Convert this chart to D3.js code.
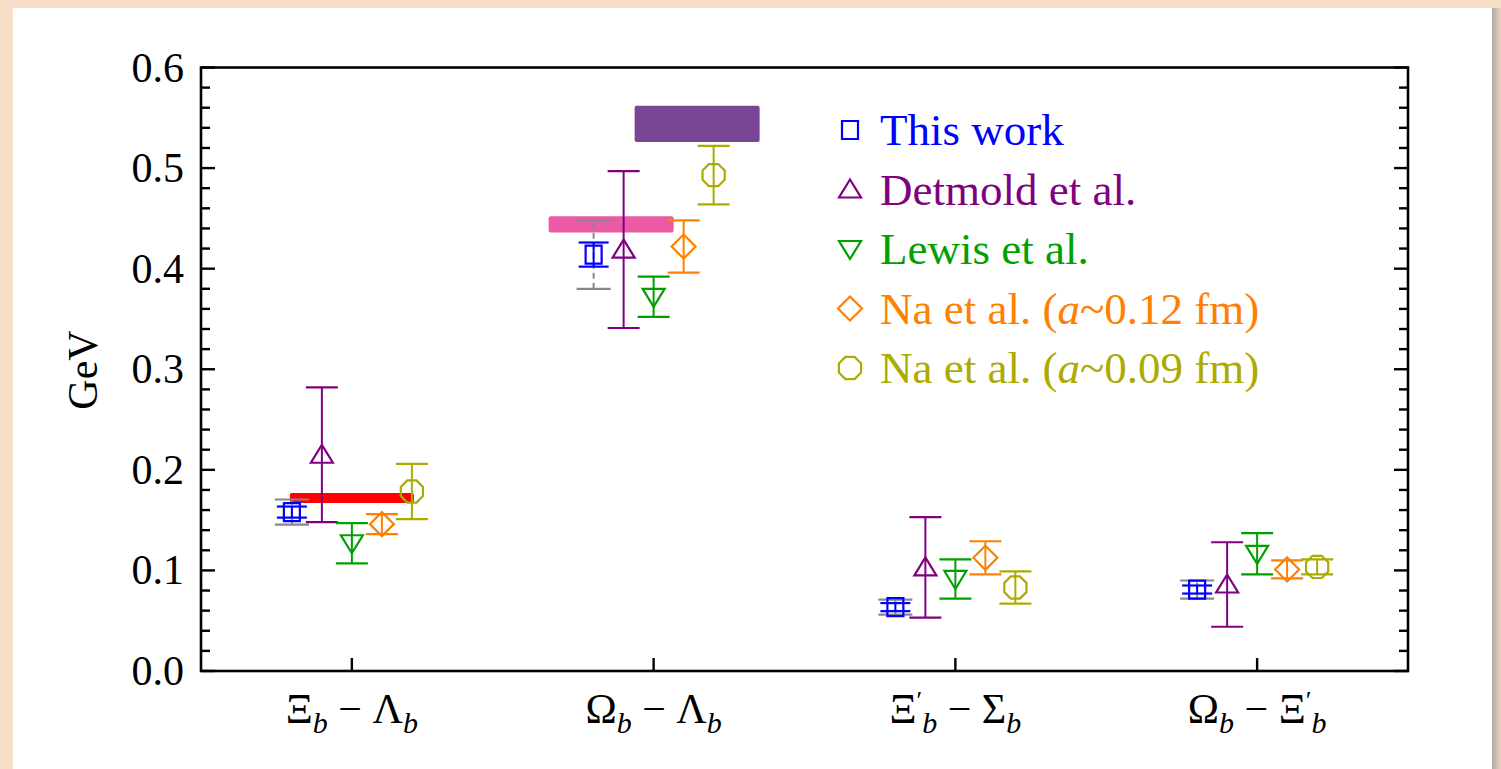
<!DOCTYPE html>
<html>
<head>
<meta charset="utf-8">
<script src="https://cdn.jsdelivr.net/npm/d3@7"></script>
<style>
body{margin:0;background:#f6dfc6;overflow:hidden;}
svg{display:block;font-family:"Liberation Serif","Times New Roman",serif;}
</style>
</head>
<body>
<svg id="viewer"></svg>
<script>
// label parts: [letter, prime?] - [letter, prime?], subscript b on both
var categories = [
  [['Ξ',false],['Λ',false]],
  [['Ω',false],['Λ',false]],
  [['Ξ',true],['Σ',false]],
  [['Ω',false],['Ξ',true]]
];
var yTicks = [0,0.1,0.2,0.3,0.4,0.5,0.6];

var seriesNames = ['This work','Detmold et al.','Lewis et al.','Na et al. (a~0.12 fm)','Na et al. (a~0.09 fm)'];

var thisWork      = [0.158, 0.414, 0.0635, 0.081];
var thisWorkStat  = [0.0055, 0.012, 0.004, 0.004];
var thisWorkTotal = [0.0125, 0.034, 0.0075, 0.009];
var detmold       = [0.215, 0.419, 0.103, 0.086];
var detmoldErr    = [0.067, 0.078, 0.050, 0.042];
var lewis         = [0.127, 0.372, 0.0915, 0.1165];
var lewisErr      = [0.020, 0.020, 0.0195, 0.0205];
var na12          = [0.146, 0.422, 0.1125, 0.101];
var na12Err       = [0.010, 0.026, 0.0165, 0.009];
var na09          = [0.1785, 0.493, 0.083, 0.1035];
var na09Err       = [0.0275, 0.029, 0.016, 0.0075];

// experimental bands
var expCategory = [0, 1, 1];
var expValue    = [0.172, 0.444, 0.544];
var expErr      = [0.005, 0.008, 0.018];

var colors = ['#0000ff','#800080','#00a000','#ff8000','#abab00'];
var expColors = ['#ff0000','#ea5aa6','#7b4596'];
var expSpan = [[-62,62],[-105,20],[-19,106]];   // horizontal extent in px around category centre

var W = 1501, H = 769;
var viewer = d3.select('#viewer').attr('width',W).attr('height',H);

// card background
viewer.append('rect').attr('x',0).attr('y',0).attr('width',W).attr('height',H).attr('fill','#f6dfc6');
var grad = viewer.append('defs').append('linearGradient').attr('id','shadow');
grad.append('stop').attr('offset','0%').attr('stop-color','#b3a89f');
grad.append('stop').attr('offset','100%').attr('stop-color','#e6d3c0');
viewer.append('rect').attr('x',1492).attr('y',8).attr('width',9).attr('height',H).attr('fill','url(#shadow)');
viewer.append('rect').attr('x',13).attr('y',8).attr('width',1479).attr('height',H).attr('fill','#ffffff');

var L = 201, R = 1408, T = 67.5, B = 671;

var x = d3.scaleBand().domain(d3.range(categories.length)).range([L,R]).padding(0);
var y = d3.scaleLinear().domain([0,0.6]).range([B,T]);
var off = d3.scalePoint().domain(d3.range(seriesNames.length)).range([-60,60]);
function cx(i){return x(i)+x.bandwidth()/2;}

// experimental bars
viewer.selectAll('.exp')
  .data(expValue)
  .enter().append('rect')
    .attr('class','exp')
    .attr('x',function(d,i){return cx(expCategory[i])+expSpan[i][0];})
    .attr('width',function(d,i){return expSpan[i][1]-expSpan[i][0];})
    .attr('y',function(d,i){return y(d+expErr[i]);})
    .attr('height',function(d,i){return y(d-expErr[i])-y(d+expErr[i]);})
    .attr('rx',2)
    .attr('fill',function(d,i){return expColors[i];});

// markers
function markerPath(s){
  if (s==0) return 'M-8,-9H8V9H-8Z';
  if (s==1) return 'M0,-10L11,8H-11Z';
  if (s==2) return 'M0,10L11,-8H-11Z';
  if (s==3) return 'M0,-12L12,0L0,12L-12,0Z';
  var p = [];
  for (var k=0;k<8;k++){
    var a = Math.PI/8 + k*Math.PI/4;
    p.push((12*Math.cos(a)).toFixed(2)+','+(12*Math.sin(a)).toFixed(2));
  }
  return 'M'+p.join('L')+'Z';
}

var points = [];
var vals = [thisWork, detmold, lewis, na12, na09];
var errs = [thisWorkStat, detmoldErr, lewisErr, na12Err, na09Err];
for (var s=0;s<5;s++){
  for (var c=0;c<categories.length;c++){
    points.push({s:s, c:c, v:vals[s][c], e:errs[s][c]});
  }
}

function errorBar(g, lo, hi, color, half, dash){
  g.append('line').attr('x1',0).attr('x2',0).attr('y1',lo).attr('y2',hi)
    .attr('stroke',color).attr('stroke-width',2).attr('stroke-dasharray',dash||null);
  g.append('line').attr('x1',-half).attr('x2',half).attr('y1',lo).attr('y2',lo)
    .attr('stroke',color).attr('stroke-width',2.2);
  g.append('line').attr('x1',-half).attr('x2',half).attr('y1',hi).attr('y2',hi)
    .attr('stroke',color).attr('stroke-width',2.2);
}

var pointViews = viewer.selectAll('.pt')
  .data(points)
  .enter().append('g')
    .attr('class','pt')
    .attr('transform',function(d){return 'translate('+(cx(d.c)+off(d.s))+',0)';});

pointViews.each(function(d){
  var g = d3.select(this);
  if (d.s==0){
    errorBar(g, y(d.v-thisWorkTotal[d.c]), y(d.v+thisWorkTotal[d.c]), '#888888', 17, '6,4');
  }
  errorBar(g, y(d.v-d.e), y(d.v+d.e), colors[d.s], d.s==0?15:16);
  g.append('path')
    .attr('d',markerPath(d.s))
    .attr('transform','translate(0,'+y(d.v)+')')
    .attr('fill','none')
    .attr('stroke',colors[d.s])
    .attr('stroke-width',2.2);
});

// frame
var axisColor = '#000';
viewer.append('rect').attr('x',L).attr('y',T).attr('width',R-L).attr('height',B-T)
  .attr('fill','none').attr('stroke',axisColor).attr('stroke-width',2.6);

var minor = d3.range(0,0.6001,0.02);
viewer.selectAll('.ytick')
  .data(minor)
  .enter().append('g')
    .attr('class','ytick')
    .each(function(d,i){
      var len = (i%5==0)?14:9;
      var g = d3.select(this);
      g.append('line').attr('x1',L).attr('x2',L+len).attr('y1',y(d)).attr('y2',y(d))
        .attr('stroke',axisColor).attr('stroke-width',2.4);
      g.append('line').attr('x1',R).attr('x2',R-len).attr('y1',y(d)).attr('y2',y(d))
        .attr('stroke',axisColor).attr('stroke-width',2.4);
    });

viewer.selectAll('.ylab')
  .data(yTicks)
  .enter().append('text')
    .attr('class','ylab')
    .attr('x',184)
    .attr('y',function(d){return y(d)+14;})
    .attr('text-anchor','end')
    .attr('font-size',42)
    .attr('fill','#000')
    .text(function(d){return d.toFixed(1);});

viewer.selectAll('.xtick')
  .data(categories)
  .enter().append('line')
    .attr('class','xtick')
    .attr('x1',function(d,i){return cx(i);})
    .attr('x2',function(d,i){return cx(i);})
    .attr('y1',B).attr('y2',B-13)
    .attr('stroke',axisColor).attr('stroke-width',2.4);

// x labels
var xLabels = viewer.selectAll('.xlab')
  .data(categories)
  .enter().append('text')
    .attr('class','xlab')
    .attr('x',function(d,i){return cx(i);})
    .attr('y',723)
    .attr('text-anchor','middle')
    .attr('font-size',42)
    .attr('fill','#000');

xLabels.each(function(d){
  var t = d3.select(this);
  function part(p){
    t.append('tspan').text(p[0]);
    if (p[1]){
      t.append('tspan').attr('font-size',26).attr('dy',-14).text('′');
      t.append('tspan').attr('font-size',30).attr('font-style','italic').attr('dy',24).text('b');
    } else {
      t.append('tspan').attr('font-size',30).attr('font-style','italic').attr('dy',10).text('b');
    }
  }
  part(d[0]);
  t.append('tspan').attr('dy',-10).text(' − ');
  part(d[1]);
});

// y title
viewer.append('text')
  .attr('transform','translate(97,370) rotate(-90)')
  .attr('text-anchor','middle')
  .attr('font-size',42)
  .attr('fill','#000')
  .text('GeV');

// legend
var legend = viewer.selectAll('.legend')
  .data(seriesNames)
  .enter().append('g')
    .attr('class','legend')
    .attr('transform',function(d,i){return 'translate(850,'+(145+i*59.5)+')';});

legend.append('path')
  .attr('d',function(d,i){return markerPath(i);})
  .attr('transform','translate(0,-15)')
  .attr('fill','none')
  .attr('stroke',function(d,i){return colors[i];})
  .attr('stroke-width',2.2);

legend.append('text')
  .attr('x',30)
  .attr('font-size',45)
  .attr('fill',function(d,i){return colors[i];})
  .each(function(d){
    var t = d3.select(this);
    var m = d.indexOf('(a~');
    if (m<0){ t.text(d); return; }
    t.append('tspan').text(d.slice(0,m+1));
    t.append('tspan').attr('font-style','italic').text('a');
    t.append('tspan').text(d.slice(m+2));
  });
</script>
</body>
</html>
